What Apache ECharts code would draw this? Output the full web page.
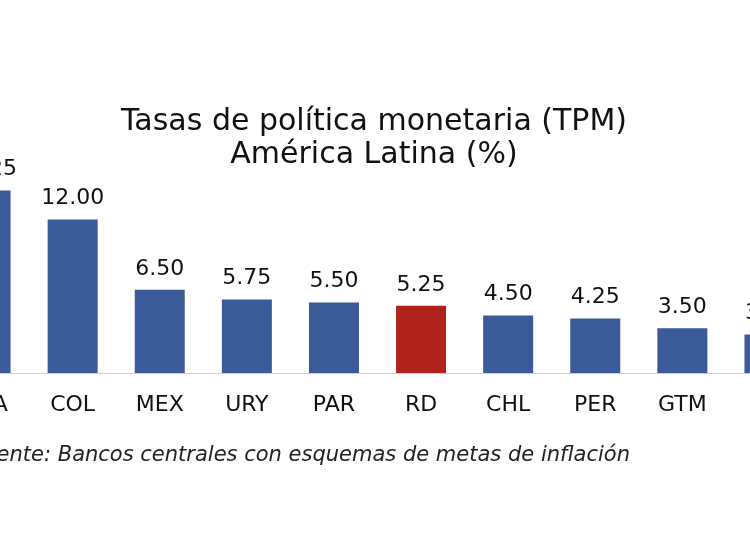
<!DOCTYPE html>
<html>
<head>
<meta charset="utf-8">
<script src="https://cdn.jsdelivr.net/npm/echarts@6/dist/echarts.min.js"></script>
<style>
html,body{margin:0;padding:0;background:#fff;overflow:hidden;width:750px;height:536px;position:relative;}
#chart{position:absolute;left:-58px;top:0;width:871px;height:536px;}
</style>
</head>
<body>
<div id="chart"></div>
<script>
var categories = ['BRA', 'COL', 'MEX', 'URY', 'PAR', 'RD', 'CHL', 'PER', 'GTM', 'CRI'];
var values = [14.25, 12.00, 6.50, 5.75, 5.50, 5.25, 4.50, 4.25, 3.50, 3.00];
var highlight = 'RD';
var titleLines = ['Tasas de política monetaria (TPM)', 'América Latina (%)'];
var sourceText = 'Fuente: Bancos centrales con esquemas de metas de inflación';

var FONT = '"DejaVu Sans"';
var chart = echarts.init(document.getElementById('chart'));
chart.setOption({
  backgroundColor: '#ffffff',
  animation: false,
  grid: { left: 0, right: 0, top: 117, bottom: 163 },
  xAxis: {
    type: 'category',
    data: categories,
    axisLine: { lineStyle: { color: '#cfcfcf', width: 1 } },
    axisTick: { show: false },
    axisLabel: { fontFamily: FONT, fontSize: 22, color: '#111', margin: 21 }
  },
  yAxis: {
    type: 'value', min: 0, max: 20, show: false, splitLine: { show: false }
  },
  series: [{
    type: 'bar',
    barWidth: 50,
    data: values.map(function (v, i) {
      return {
        value: v,
        itemStyle: { color: categories[i] === highlight ? '#B0231D' : '#3A5A98' }
      };
    }),
    label: {
      show: true, position: 'top', distance: 10,
      fontFamily: FONT, fontSize: 22, color: '#111',
      formatter: function (p) { return p.value.toFixed(2); }
    }
  }],
  graphic: [{
    type: 'text', x: 432, y: 107,
    style: { text: titleLines[0], textAlign: 'center', textVerticalAlign: 'top',
      fontFamily: FONT, fontSize: 30, fill: '#111' }
  }, {
    type: 'text', x: 432, y: 140,
    style: { text: titleLines[1], textAlign: 'center', textVerticalAlign: 'top',
      fontFamily: FONT, fontSize: 30, fill: '#111' }
  }, {
    type: 'text', x: 688, y: 445,
    style: { text: sourceText, textAlign: 'right', textVerticalAlign: 'top',
      fontFamily: FONT, fontSize: 21, fontStyle: 'italic', fill: '#222' }
  }]
});
</script>
</body>
</html>
